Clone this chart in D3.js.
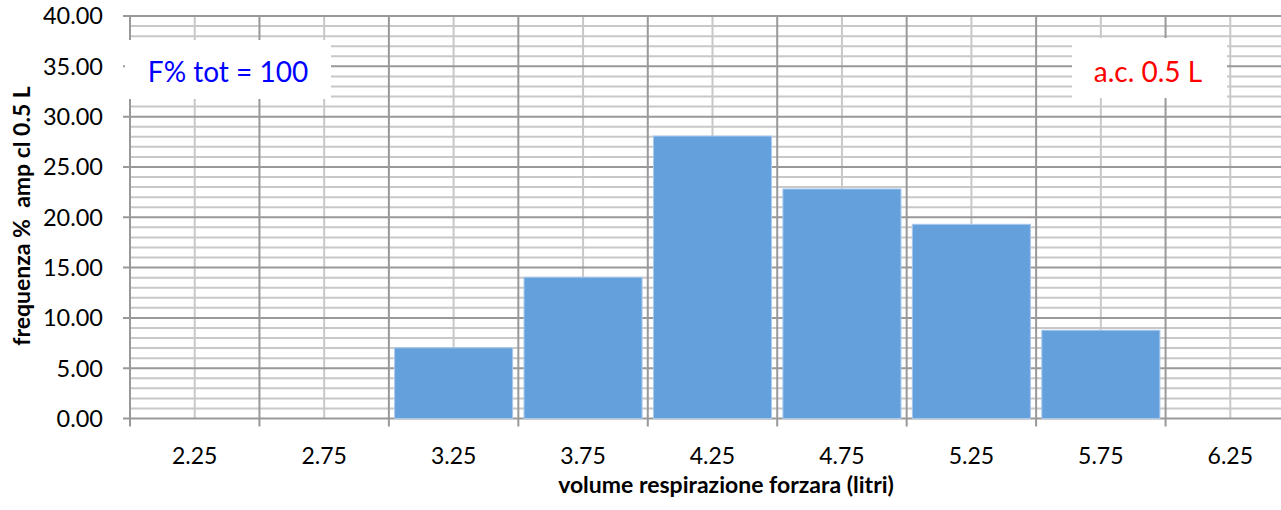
<!DOCTYPE html>
<html>
<head>
<meta charset="utf-8">
<script src="https://cdn.jsdelivr.net/npm/d3@7/dist/d3.min.js"></script>
<style>
  html, body { margin: 0; padding: 0; background: #fff; }
  svg { display: block; }
  text { font-family: Lato, "Open Sans", sans-serif; }
</style>
</head>
<body>
<svg id="chart" width="1281" height="510"></svg>
<script>
const categories = ["2.25", "2.75", "3.25", "3.75", "4.25", "4.75", "5.25", "5.75", "6.25"];
const values = [0, 0, 7.02, 14.04, 28.07, 22.81, 19.30, 8.77, 0];
const yTicks = [0, 5, 10, 15, 20, 25, 30, 35, 40];
const yMinorTicks = d3.range(0, 41, 1);
const yTitle = "frequenza %  amp cl 0.5 L";
const xTitle = "volume respirazione forzara (litri)";
const noteLeft = "F% tot = 100";
const noteRight = "a.c. 0.5 L";

(function () {
const svg = d3.select("#chart");
const pLeft = 130, pRight = 1295, pTop = 16, pBottom = 418.5;

const x = d3.scaleBand().domain(categories).range([pLeft, pRight]).paddingInner(0).paddingOuter(0);
const y = d3.scaleLinear().domain([0, 40]).range([pBottom, pTop]);

const minorColor = "#c8c8c8", majorColor = "#999999";

// minor horizontal grid
svg.append("g").selectAll("line").data(yMinorTicks.filter(d => d % 5 !== 0)).join("line")
  .attr("x1", pLeft).attr("x2", pRight)
  .attr("y1", d => y(d)).attr("y2", d => y(d))
  .attr("stroke", minorColor).attr("stroke-width", 2);

// minor vertical grid (category centers)
svg.append("g").selectAll("line").data(categories).join("line")
  .attr("x1", d => x(d) + x.bandwidth() / 2).attr("x2", d => x(d) + x.bandwidth() / 2)
  .attr("y1", pTop).attr("y2", pBottom)
  .attr("stroke", minorColor).attr("stroke-width", 2);

// major horizontal grid
svg.append("g").selectAll("line").data(yTicks).join("line")
  .attr("x1", pLeft - 7).attr("x2", pRight)
  .attr("y1", d => y(d)).attr("y2", d => y(d))
  .attr("stroke", majorColor).attr("stroke-width", 2);

// major vertical grid (category boundaries)
const bounds = categories.map(c => x(c)).concat([pRight]);
svg.append("g").selectAll("line").data(bounds).join("line")
  .attr("x1", d => d).attr("x2", d => d)
  .attr("y1", pTop).attr("y2", pBottom + 8)
  .attr("stroke", majorColor).attr("stroke-width", 2);

// bars
const gap = 5.7;
svg.append("g").selectAll("rect").data(categories.map((c, i) => ({c, v: values[i]})).filter(d => d.v > 0)).join("rect")
  .attr("x", d => x(d.c) + gap)
  .attr("width", x.bandwidth() - 2 * gap)
  .attr("y", d => y(d.v))
  .attr("height", d => y(0) - y(d.v))
  .attr("fill", "#64a0dc")
  .attr("stroke", "#a8c8ec").attr("stroke-width", 1);

// y tick labels
svg.append("g").selectAll("text").data(yTicks).join("text")
  .attr("x", 103).attr("y", d => y(d)).attr("dy", "0.36em")
  .attr("text-anchor", "end").attr("font-size", 23.5).attr("fill", "#000")
  .text(d => d.toFixed(2));

// x tick labels
svg.append("g").selectAll("text").data(categories).join("text")
  .attr("x", d => x(d) + x.bandwidth() / 2).attr("y", 464)
  .attr("text-anchor", "middle").attr("font-size", 23).attr("fill", "#000")
  .text(d => d);

// axis titles
svg.append("text").attr("x", 726).attr("y", 493)
  .attr("text-anchor", "middle").attr("font-size", 23).attr("font-weight", "bold")
  .text(xTitle);
svg.append("text").attr("transform", "translate(30,216) rotate(-90)")
  .attr("text-anchor", "middle").attr("font-size", 23).attr("font-weight", "bold")
  .style("white-space", "pre")
  .text(yTitle);

// note boxes
svg.append("rect").attr("x", 125).attr("y", 40).attr("width", 206).attr("height", 59).attr("fill", "#fff");
svg.append("text").attr("x", 228).attr("y", 82).attr("text-anchor", "middle")
  .attr("font-size", 28).attr("fill", "#0000ff").text(noteLeft);
svg.append("rect").attr("x", 1072).attr("y", 38).attr("width", 155).attr("height", 60).attr("fill", "#fff");
svg.append("text").attr("x", 1148).attr("y", 82).attr("text-anchor", "middle")
  .attr("font-size", 28).attr("fill", "#ff0000").text(noteRight);
})();
</script>
</body>
</html>
